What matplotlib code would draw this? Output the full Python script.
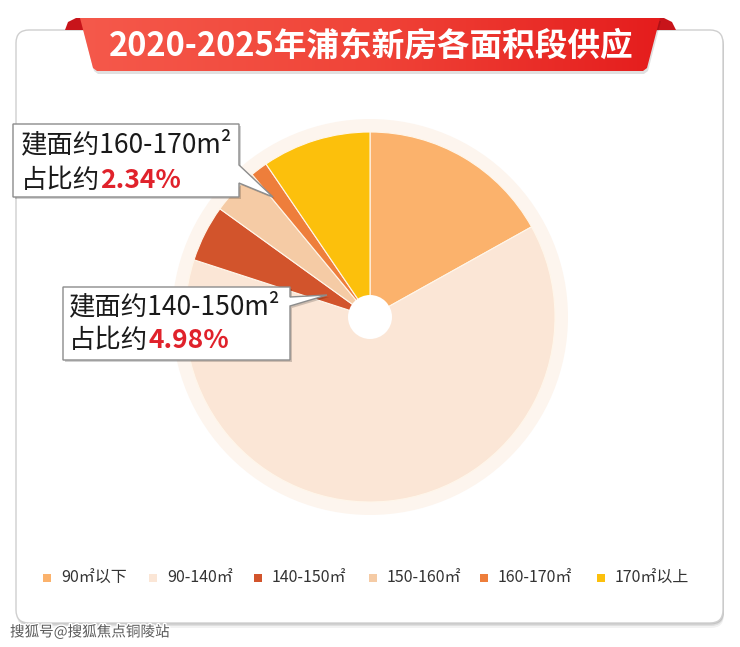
import matplotlib
matplotlib.use("Agg")
import matplotlib.pyplot as plt
import matplotlib.patheffects as pe
from matplotlib.patches import Polygon, Circle, FancyBboxPatch, Rectangle
import numpy as np

plt.rcParams['font.family'] = ['Noto Sans CJK SC', 'DejaVu Sans']

# data
categories = ['90㎡以下', '90-140㎡', '140-150㎡', '150-160㎡', '160-170㎡', '170㎡以上']
shares = [16.9, 63.1, 4.94, 4.06, 1.5, 9.5]
colors = ['#fbb26c', '#fbe6d6', '#d2542c', '#f5cba5', '#ee7e3b', '#fcc00c']
title = '2020-2025年浦东新房各面积段供应'
notes = [('建面约160-170m²', '2.34%'), ('建面约140-150m²', '4.98%')]
watermark = '搜狐号@搜狐焦点铜陵站'

W, H = 740, 647
fig = plt.figure(figsize=(W / 100, H / 100), dpi=100)
ax = fig.add_axes([0, 0, 1, 1])
ax.set_xlim(0, W)
ax.set_ylim(0, H)
ax.axis('off')


def Y(y):
    return H - y


# card with soft shadow
for k, a in [(5, 0.05), (3, 0.08), (1.5, 0.12)]:
    ax.add_patch(FancyBboxPatch((16 + 1, Y(623) - k), 707, 593, boxstyle='round,pad=0,rounding_size=13',
                                fc='#000000', ec='none', alpha=a, zorder=1))
ax.add_patch(FancyBboxPatch((16, Y(623)), 707, 593, boxstyle='round,pad=0,rounding_size=13',
                            fc='white', ec='#cfcfcf', lw=1, zorder=2))

# title ribbon
tabL = Polygon([(65, Y(30)), (68, Y(22)), (76, Y(18)), (84, Y(18)), (86, Y(30))],
               closed=True, fc='#c8141a', ec='none', zorder=3)
tabR = Polygon([(654, Y(30)), (656, Y(18)), (664, Y(18)), (672, Y(22)), (676, Y(30))],
               closed=True, fc='#c8141a', ec='none', zorder=3)
ax.add_patch(tabL)
ax.add_patch(tabR)
ribbon = [(80, Y(18)), (660, Y(18)), (647, Y(68)), (643, Y(71)), (97, Y(71)), (93, Y(68))]
ax.add_patch(Polygon([(x + 1, y - 3) for x, y in ribbon], closed=True, fc='#000000', alpha=0.12,
                     ec='none', zorder=3))
rib = Polygon(ribbon, closed=True, fc='none', ec='none', zorder=4)
ax.add_patch(rib)
grad = np.linspace(0, 1, 256)[None, :]
cmap = matplotlib.colors.LinearSegmentedColormap.from_list('rib', ['#f5594b', '#f04438', '#e51d1d'])
im = ax.imshow(grad, cmap=cmap, extent=(80, 660, Y(72), Y(18)), aspect='auto', zorder=4)
im.set_clip_path(rib)
ax.text(371, Y(46), title, color='white', fontsize=23.5, fontweight='bold',
        ha='center', va='center', zorder=5)

# pie
cx, cy, r = 370, Y(317), 185
ax.add_patch(Circle((cx, cy), 198, fc='#fdf5ee', ec='none', zorder=5))
ax.pie(shares, colors=colors, startangle=90, counterclock=False, center=(cx, cy), radius=r,
       frame=True, wedgeprops=dict(ec='#fff6ea', lw=0.8, zorder=6))
ax.set_xlim(0, W)
ax.set_ylim(0, H)
ax.set_aspect('auto')
ax.axis('off')
for w in ax.patches[-len(shares):]:
    w.set_zorder(6)
ax.add_patch(Circle((cx, cy), 22, fc='white', ec='none', zorder=7))

# callout boxes
boxes = [
    [(13, 124), (239, 124), (239, 165), (273, 197), (239, 183), (239, 197), (13, 197)],
    [(63, 287), (290, 287), (290, 297), (327, 295), (290, 306), (290, 360), (63, 360)],
]
text_pos = [(21, 145, 180), (69, 307, 341)]
fig.canvas.draw()
rend = fig.canvas.get_renderer()
for pts, (tx, y1, y2), (l1, pct) in zip(boxes, text_pos, notes):
    ax.add_patch(Polygon([(x + 2, Y(y) - 2) for x, y in pts], closed=True, fc='#000000',
                         alpha=0.18, ec='none', zorder=8))
    ax.add_patch(Polygon([(x, Y(y)) for x, y in pts], closed=True, fc='white',
                         ec='#8c8c8c', lw=1, zorder=9))
    ax.text(tx, Y(y1), l1, fontsize=19, color='#1a1a1a', va='center', ha='left', zorder=10)
    t = ax.text(tx, Y(y2), '占比约', fontsize=19, color='#1a1a1a', va='center', ha='left', zorder=10)
    bb = t.get_window_extent(renderer=rend)
    ax.text(bb.x1, Y(y2), pct, fontsize=19, color='#e0222b', va='center', ha='left',
            fontweight='bold', zorder=10)

# legend
leg_x = [47, 153, 258, 373, 484, 601]
for x, lab, c in zip(leg_x, categories, colors):
    ax.add_patch(Rectangle((x - 4, Y(578) - 4), 8, 8, fc=c, ec='none', zorder=10))
    ax.text(x + 14, Y(578), lab, fontsize=11.5, color='#333333', va='center', ha='left', zorder=10)

ax.text(10, Y(632), watermark, fontsize=10.5, color='#5a5a5a', va='center', ha='left', zorder=10,
        path_effects=[pe.withStroke(linewidth=2, foreground='white')])

fig.savefig('out.png', dpi=100)
